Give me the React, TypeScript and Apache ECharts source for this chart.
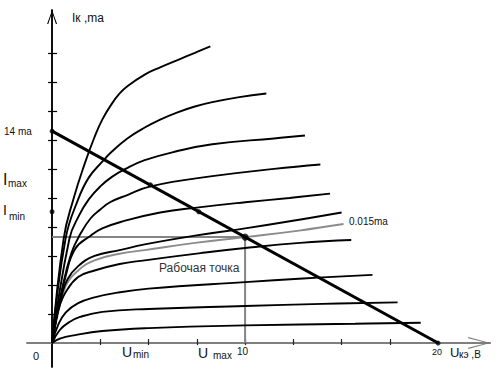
import React, { useEffect, useRef } from "react";
import * as echarts from "echarts";

type Pt = [number, number];

// Output characteristics Ik (mA) vs Uкэ (V), from the highest base current to the lowest
const curve1: Pt[] = [[0, 0], [0.6, 7.2], [1.1, 9.9], [1.7, 12.4], [2.2, 14.2], [2.6, 15.4], [3.1, 16.5], [3.5, 17.2], [3.9, 17.7], [4.8, 18.5], [5.6, 19.0], [6.5, 19.5], [7.4, 20.0], [8.2, 20.45]];
const curve2: Pt[] = [[0, 0], [0.7, 7.2], [1.35, 9.9], [1.9, 11.4], [2.6, 12.5], [3.1, 13.2], [3.9, 14.1], [4.8, 14.85], [5.6, 15.4], [6.5, 15.9], [7.4, 16.3], [8.3, 16.6], [9.7, 16.95], [11.1, 17.2]];
const curve3: Pt[] = [[0, 0], [0.9, 7.2], [1.4, 8.8], [1.9, 9.9], [2.5, 10.8], [3.1, 11.45], [3.8, 12.0], [4.8, 12.6], [6.4, 13.2], [8.3, 13.7], [11.5, 14.1], [13.1, 14.3]];
const curve4: Pt[] = [[0, 0], [0.5, 3.6], [1.0, 6.2], [1.5, 7.6], [2.0, 8.6], [2.5, 9.2], [3.0, 9.7], [3.9, 10.2], [5.1, 10.8], [8.3, 11.5], [11.5, 12.0], [13.9, 12.3]];
const curve5: Pt[] = [[0, 0], [0.3, 2.2], [0.7, 4.6], [1.2, 6.5], [2.0, 7.4], [2.6, 7.9], [3.7, 8.4], [5.6, 9.0], [7.6, 9.35], [10, 9.7], [12.3, 10.0], [14.4, 10.3]];
const curve6: Pt[] = [[0, 0], [0.25, 2.0], [0.5, 3.3], [0.8, 4.4], [1.35, 5.3], [2.2, 6.0], [3.5, 6.4], [4.8, 6.8], [7.4, 7.4], [10, 7.9], [12.8, 8.5], [15.0, 9.0]];
const curveBase015: Pt[] = [[0, 0], [0.3, 2.0], [0.7, 3.9], [1.35, 5.0], [2.2, 5.7], [3.5, 6.15], [4.8, 6.4], [7.4, 6.9], [10, 7.3], [12.8, 7.75], [15.1, 8.2]];
const curve7: Pt[] = [[0, 0], [0.2, 1.6], [0.4, 2.6], [0.7, 3.5], [1.35, 4.55], [2.2, 5.0], [3.5, 5.45], [4.8, 5.7], [7.7, 6.2], [10, 6.55], [12.85, 6.9], [15.5, 7.1]];
const curve8: Pt[] = [[0, 0], [0.3, 1.2], [0.7, 2.1], [1.35, 2.75], [2.2, 3.15], [3.5, 3.5], [5, 3.75], [10, 4.2], [13, 4.45], [16.6, 4.7]];
const curve9: Pt[] = [[0, 0], [0.4, 0.9], [0.9, 1.45], [1.45, 1.8], [2.6, 2.15], [5, 2.35], [10, 2.55], [14, 2.7], [17.9, 2.8]];
const curve10: Pt[] = [[0, 0], [0.4, 0.3], [1.2, 0.55], [2.6, 0.83], [5, 1.03], [10, 1.22], [15.7, 1.33], [19.1, 1.4]];

const blackCurves: Pt[][] = [curve1, curve2, curve3, curve4, curve5, curve6, curve7, curve8, curve9, curve10];

// Load line: Ik = 14.6 mA at U = 0, U = 20 V at Ik = 0
const loadLine: Pt[] = [[0, 14.6], [20, 0]];
const workPoint: Pt = [10, 7.3];
const loadMarks: Pt[] = [[0, 14.6], [5.1, 10.9], [7.6, 9.05], [20, 0]];
const iMinMark: Pt[] = [[0, 9.05]];

// Axis ranges and ticks
const xMin = -1.3;
const xMax = 22.7;
const yMin = -1.65;
const yMax = 22.95;
const xTicks = [2.5, 5, 7.5, 10, 12.5, 15, 17.5];
const yTicks = [2, 4, 6, 8, 10, 12, 14, 16, 18, 20];

const FONT = "'Liberation Sans', Arial, sans-serif";

const txt = (text: string, x: number, y: number, size: number, fill = "#111") => ({
  type: "text",
  x,
  y,
  silent: true,
  z: 100,
  style: { text, fontSize: size, fontFamily: FONT, fill },
});

export default function App() {
  const ref = useRef<HTMLDivElement>(null);

  useEffect(() => {
    if (!ref.current) return;
    const chart = echarts.init(ref.current, null, { renderer: "svg" });

    const xArrow = "path://M6,0 L12,22 L10.8,22 L6,3 L1.2,22 L0,22 Z";
    const yArrow = "path://M5,0 L10,14 L8.8,14 L5,2.5 L1.2,14 L0,14 Z";

    const xBase = {
      type: "value",
      min: xMin,
      max: xMax,
      position: "bottom",
      splitLine: { show: false },
      axisLabel: { show: false },
    };
    const yBase = {
      type: "value",
      min: yMin,
      max: yMax,
      position: "left",
      splitLine: { show: false },
      axisLabel: { show: false },
    };

    const curveSeries = blackCurves.map((c, i) => ({
      type: "line",
      name: "c" + (i + 1),
      data: c,
      showSymbol: false,
      smooth: 0.45,
      z: 3,
      lineStyle: { color: "#000", width: 1.9 },
    }));

    chart.setOption({
      animation: false,
      backgroundColor: "#fff",
      grid: { left: 27, right: 9.8, top: 10, bottom: 12 },
      xAxis: [
        {
          ...xBase,
          axisLine: {
            onZero: true,
            onZeroAxisIndex: 0,
            lineStyle: { color: "#777", width: 1.5 },
            symbol: ["none", xArrow],
            symbolSize: [12, 22],
            symbolOffset: [0, -11],
          },
          axisTick: { show: true, inside: true, length: 4, customValues: xTicks, lineStyle: { color: "#222", width: 1.2 } },
        },
        {
          ...xBase,
          axisLine: { show: true, onZero: true, onZeroAxisIndex: 0, lineStyle: { color: "#777", width: 1.5 } },
          axisTick: { show: true, inside: false, length: 2, customValues: xTicks, lineStyle: { color: "#222", width: 1.2 } },
        },
      ],
      yAxis: [
        {
          ...yBase,
          axisLine: {
            onZero: true,
            onZeroAxisIndex: 0,
            lineStyle: { color: "#000", width: 1.5 },
            symbol: ["none", yArrow],
            symbolSize: [10, 14],
            symbolOffset: [0, -7],
          },
          axisTick: { show: true, inside: true, length: 5, customValues: yTicks, lineStyle: { color: "#000", width: 1.2 } },
        },
        {
          ...yBase,
          axisLine: { show: true, onZero: true, onZeroAxisIndex: 0, lineStyle: { color: "#000", width: 1.5 } },
          axisTick: { show: true, inside: false, length: 4, customValues: yTicks, lineStyle: { color: "#000", width: 1.2 } },
        },
      ],
      series: [
        {
          type: "line",
          name: "work lines",
          data: [[0, workPoint[1]], workPoint, [workPoint[0], 0]],
          showSymbol: false,
          z: 2,
          lineStyle: { color: "#858585", width: 2 },
        },
        {
          type: "line",
          name: "Ib 0.015ma",
          data: curveBase015,
          showSymbol: false,
          smooth: 0.45,
          z: 2,
          lineStyle: { color: "#8c8c8c", width: 1.9 },
        },
        ...curveSeries,
        {
          type: "line",
          name: "load",
          data: loadLine,
          showSymbol: false,
          z: 4,
          lineStyle: { color: "#000", width: 3 },
        },
        {
          type: "scatter",
          name: "marks",
          data: [...loadMarks, ...iMinMark],
          symbolSize: 5,
          z: 5,
          itemStyle: { color: "#000" },
        },
        {
          type: "scatter",
          name: "work point",
          data: [workPoint],
          symbolSize: 7,
          z: 5,
          itemStyle: { color: "#000" },
        },
      ],
      graphic: [
        txt("Iк ,ma", 72, 11.8, 12),
        txt("14 ma", 4, 126.5, 10),
        txt("I", 3, 171.4, 16),
        txt("max", 8, 178.5, 10),
        txt("I", 3, 203, 14),
        txt("min", 9, 211.5, 10),
        txt("0", 33, 350.7, 11),
        txt("U", 122, 345, 14),
        txt("min", 133, 349, 10),
        txt("U", 198, 346, 14),
        txt("max", 213, 350.5, 10),
        txt("10", 237, 346.5, 10),
        txt("20", 432, 347.4, 9),
        txt("U", 450, 346, 13),
        txt("кэ ,В", 459, 349.5, 10),
        txt("0.015ma", 349, 216.5, 10),
        txt("Рабочая точка", 159, 261.8, 12, "#333"),
      ],
    });

    return () => chart.dispose();
  }, []);

  return (
    <div
      ref={ref}
      style={{ position: "absolute", left: 0, top: 0, width: 500, height: 379, background: "#fff" }}
    />
  );
}
